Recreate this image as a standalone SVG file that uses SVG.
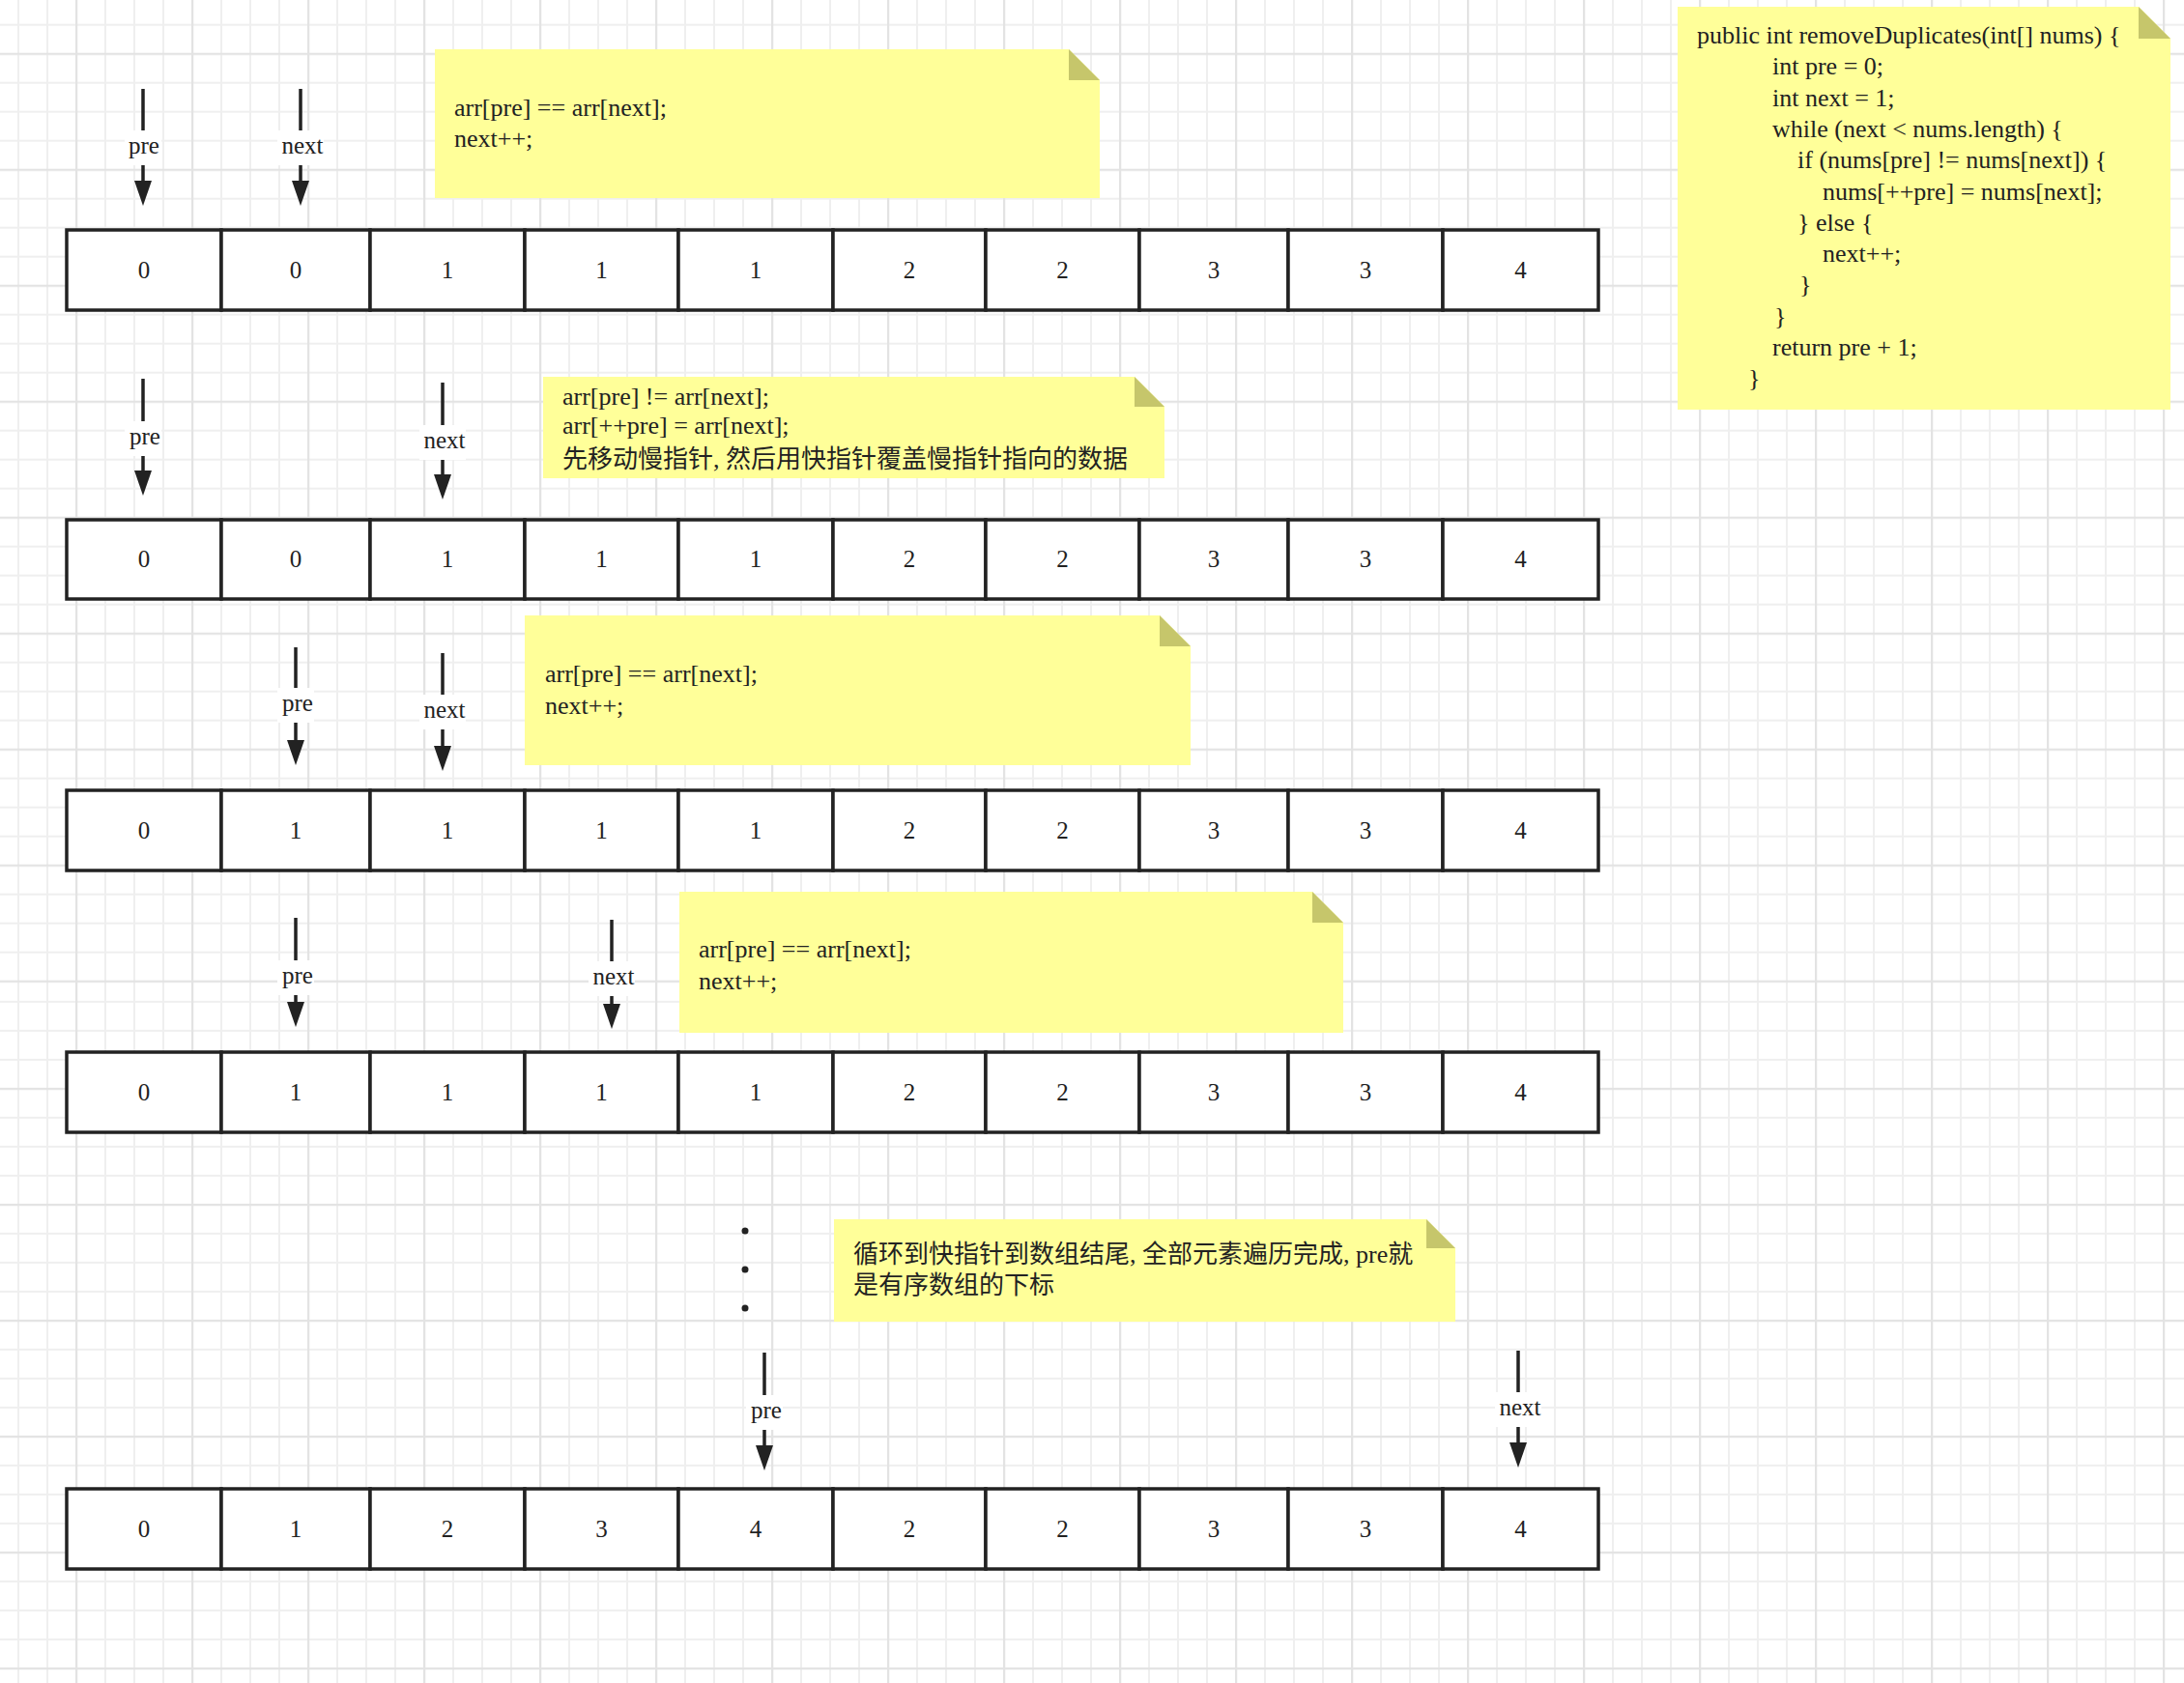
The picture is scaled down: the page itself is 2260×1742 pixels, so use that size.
<svg xmlns="http://www.w3.org/2000/svg" width="2260" height="1742" viewBox="0 0 2260 1742">
<style>
.t{font-family:"Liberation Serif","Noto Sans CJK SC",serif;font-size:25px;fill:#222}
.n{font-size:26px}
.c{text-anchor:middle}
.cjk{font-size:26px}
.cell{fill:#fff;stroke:#222;stroke-width:3.5}
.note{fill:#ffff99}
.fold{fill:#c6c66b}
.arrow{stroke:#222;stroke-width:3.5;fill:none;marker-end:url(#ah)}
.lbl{fill:#fff}
.gmin{stroke:#efefef;stroke-width:2}
.gmaj{stroke:#e3e3e3;stroke-width:2.5}
</style>
<defs>
<pattern id="gridA" patternUnits="userSpaceOnUse" x="78" y="54.7" width="120" height="120">
<path class="gmin" d="M31,0V120M61,0V120M91,0V120M0,31H120M0,61H120M0,91H120"/>
<path class="gmaj" d="M1,0V120M0,1H120"/>
</pattern>
<pattern id="gridB" patternUnits="userSpaceOnUse" x="78" y="45.9" width="120" height="120">
<path class="gmin" d="M31,0V120M61,0V120M91,0V120M0,31H120M0,61H120M0,91H120"/>
<path class="gmaj" d="M1,0V120M0,1H120"/>
</pattern>
<marker id="ah" markerUnits="userSpaceOnUse" markerWidth="28" markerHeight="20" viewBox="0 0 28 20" refX="16" refY="10" orient="auto">
<path d="M0,1 L26,10 L0,19 Z" fill="#222"/>
</marker>
</defs>
<rect x="0" y="0" width="2260" height="1742" fill="#fff"/>
<rect x="0" y="0" width="2260" height="1026" fill="url(#gridA)"/>
<rect x="0" y="1026" width="2260" height="716" fill="url(#gridB)"/>

<g id="note-code">
<path class="note" d="M1736,7 H2213 L2246,40 V424 H1736 Z"/>
<path class="fold" d="M2213,7 L2246,40 H2213 Z"/>
<text class="t n" x="1756" y="45">public int removeDuplicates(int[] nums) {</text>
<text class="t n" x="1834" y="77.3">int pre = 0;</text>
<text class="t n" x="1834" y="109.6">int next = 1;</text>
<text class="t n" x="1834" y="141.9">while (next &lt; nums.length) {</text>
<text class="t n" x="1860" y="174.2">if (nums[pre] != nums[next]) {</text>
<text class="t n" x="1886" y="206.5">nums[++pre] = nums[next];</text>
<text class="t n" x="1860" y="238.8">} else {</text>
<text class="t n" x="1886" y="271.1">next++;</text>
<text class="t n" x="1862" y="303.4">}</text>
<text class="t n" x="1836" y="335.7">}</text>
<text class="t n" x="1834" y="368">return pre + 1;</text>
<text class="t n" x="1809" y="400.3">}</text>
</g>

<g id="note1">
<path class="note" d="M450,51 H1106 L1138,83 V205 H450 Z"/>
<path class="fold" d="M1106,51 L1138,83 H1106 Z"/>
<text class="t n" x="470" y="119.5">arr[pre] == arr[next];</text>
<text class="t n" x="470" y="152">next++;</text>
</g>

<g id="note2">
<path class="note" d="M562,390 H1174 L1205,421 V495 H562 Z"/>
<path class="fold" d="M1174,390 L1205,421 H1174 Z"/>
<text class="t n" x="582" y="418.5">arr[pre] != arr[next];</text>
<text class="t n" x="582" y="449">arr[++pre] = arr[next];</text>
<text class="t cjk" x="582" y="484">先移动慢指针, 然后用快指针覆盖慢指针指向的数据</text>
</g>

<g id="note3">
<path class="note" d="M543,637 H1200 L1232,669 V792 H543 Z"/>
<path class="fold" d="M1200,637 L1232,669 H1200 Z"/>
<text class="t n" x="564" y="705.5">arr[pre] == arr[next];</text>
<text class="t n" x="564" y="738.5">next++;</text>
</g>

<g id="note4">
<path class="note" d="M703,923 H1358 L1390,955 V1069 H703 Z"/>
<path class="fold" d="M1358,923 L1390,955 H1358 Z"/>
<text class="t n" x="723" y="991">arr[pre] == arr[next];</text>
<text class="t n" x="723" y="1024">next++;</text>
</g>

<g id="note5">
<path class="note" d="M863,1262 H1476 L1506,1292 V1368 H863 Z"/>
<path class="fold" d="M1476,1262 L1506,1292 H1476 Z"/>
<text class="t cjk" x="883" y="1307">循环到快指针到数组结尾, 全部元素遍历完成, pre就</text>
<text class="t cjk" x="883" y="1339">是有序数组的下标</text>
</g>

<g id="ellipsis" fill="#222">
<circle cx="771" cy="1274" r="3.5"/>
<circle cx="771" cy="1314" r="3.5"/>
<circle cx="771" cy="1354" r="3.5"/>
</g>

<g id="array1">
<rect class="cell" x="69" y="238" width="160" height="83"/>
<rect class="cell" x="229" y="238" width="154" height="83"/>
<rect class="cell" x="383" y="238" width="160" height="83"/>
<rect class="cell" x="543" y="238" width="159" height="83"/>
<rect class="cell" x="702" y="238" width="160" height="83"/>
<rect class="cell" x="862" y="238" width="158" height="83"/>
<rect class="cell" x="1020" y="238" width="159" height="83"/>
<rect class="cell" x="1179" y="238" width="154" height="83"/>
<rect class="cell" x="1333" y="238" width="160" height="83"/>
<rect class="cell" x="1493" y="238" width="161" height="83"/>
<g class="t c">
<text x="149" y="288">0</text><text x="306" y="288">0</text><text x="463" y="288">1</text><text x="622.5" y="288">1</text><text x="782" y="288">1</text><text x="941" y="288">2</text><text x="1099.5" y="288">2</text><text x="1256" y="288">3</text><text x="1413" y="288">3</text><text x="1573.5" y="288">4</text>
</g>
</g>

<g id="array2">
<rect class="cell" x="69" y="538" width="160" height="82"/>
<rect class="cell" x="229" y="538" width="154" height="82"/>
<rect class="cell" x="383" y="538" width="160" height="82"/>
<rect class="cell" x="543" y="538" width="159" height="82"/>
<rect class="cell" x="702" y="538" width="160" height="82"/>
<rect class="cell" x="862" y="538" width="158" height="82"/>
<rect class="cell" x="1020" y="538" width="159" height="82"/>
<rect class="cell" x="1179" y="538" width="154" height="82"/>
<rect class="cell" x="1333" y="538" width="160" height="82"/>
<rect class="cell" x="1493" y="538" width="161" height="82"/>
<g class="t c">
<text x="149" y="587">0</text><text x="306" y="587">0</text><text x="463" y="587">1</text><text x="622.5" y="587">1</text><text x="782" y="587">1</text><text x="941" y="587">2</text><text x="1099.5" y="587">2</text><text x="1256" y="587">3</text><text x="1413" y="587">3</text><text x="1573.5" y="587">4</text>
</g>
</g>

<g id="array3">
<rect class="cell" x="69" y="818" width="160" height="83"/>
<rect class="cell" x="229" y="818" width="154" height="83"/>
<rect class="cell" x="383" y="818" width="160" height="83"/>
<rect class="cell" x="543" y="818" width="159" height="83"/>
<rect class="cell" x="702" y="818" width="160" height="83"/>
<rect class="cell" x="862" y="818" width="158" height="83"/>
<rect class="cell" x="1020" y="818" width="159" height="83"/>
<rect class="cell" x="1179" y="818" width="154" height="83"/>
<rect class="cell" x="1333" y="818" width="160" height="83"/>
<rect class="cell" x="1493" y="818" width="161" height="83"/>
<g class="t c">
<text x="149" y="868">0</text><text x="306" y="868">1</text><text x="463" y="868">1</text><text x="622.5" y="868">1</text><text x="782" y="868">1</text><text x="941" y="868">2</text><text x="1099.5" y="868">2</text><text x="1256" y="868">3</text><text x="1413" y="868">3</text><text x="1573.5" y="868">4</text>
</g>
</g>

<g id="array4">
<rect class="cell" x="69" y="1089" width="160" height="83"/>
<rect class="cell" x="229" y="1089" width="154" height="83"/>
<rect class="cell" x="383" y="1089" width="160" height="83"/>
<rect class="cell" x="543" y="1089" width="159" height="83"/>
<rect class="cell" x="702" y="1089" width="160" height="83"/>
<rect class="cell" x="862" y="1089" width="158" height="83"/>
<rect class="cell" x="1020" y="1089" width="159" height="83"/>
<rect class="cell" x="1179" y="1089" width="154" height="83"/>
<rect class="cell" x="1333" y="1089" width="160" height="83"/>
<rect class="cell" x="1493" y="1089" width="161" height="83"/>
<g class="t c">
<text x="149" y="1139">0</text><text x="306" y="1139">1</text><text x="463" y="1139">1</text><text x="622.5" y="1139">1</text><text x="782" y="1139">1</text><text x="941" y="1139">2</text><text x="1099.5" y="1139">2</text><text x="1256" y="1139">3</text><text x="1413" y="1139">3</text><text x="1573.5" y="1139">4</text>
</g>
</g>

<g id="array5">
<rect class="cell" x="69" y="1541" width="160" height="83"/>
<rect class="cell" x="229" y="1541" width="154" height="83"/>
<rect class="cell" x="383" y="1541" width="160" height="83"/>
<rect class="cell" x="543" y="1541" width="159" height="83"/>
<rect class="cell" x="702" y="1541" width="160" height="83"/>
<rect class="cell" x="862" y="1541" width="158" height="83"/>
<rect class="cell" x="1020" y="1541" width="159" height="83"/>
<rect class="cell" x="1179" y="1541" width="154" height="83"/>
<rect class="cell" x="1333" y="1541" width="160" height="83"/>
<rect class="cell" x="1493" y="1541" width="161" height="83"/>
<g class="t c">
<text x="149" y="1591">0</text><text x="306" y="1591">1</text><text x="463" y="1591">2</text><text x="622.5" y="1591">3</text><text x="782" y="1591">4</text><text x="941" y="1591">2</text><text x="1099.5" y="1591">2</text><text x="1256" y="1591">3</text><text x="1413" y="1591">3</text><text x="1573.5" y="1591">4</text>
</g>
</g>

<g id="connectors">
<g id="pre1"><path class="arrow" d="M148,92 V203"/><rect class="lbl" x="129" y="135" width="38" height="36"/><text class="t c" x="149" y="159">pre</text></g>
<g id="next1"><path class="arrow" d="M311,92 V203"/><rect class="lbl" x="287" y="135" width="48" height="36"/><text class="t c" x="313" y="159">next</text></g>
<g id="pre2"><path class="arrow" d="M148,392 V503"/><rect class="lbl" x="129" y="436" width="38" height="36"/><text class="t c" x="150" y="460">pre</text></g>
<g id="next2"><path class="arrow" d="M458,396 V507"/><rect class="lbl" x="434" y="440" width="48" height="36"/><text class="t c" x="460" y="464">next</text></g>
<g id="pre3"><path class="arrow" d="M306,670 V782"/><rect class="lbl" x="287" y="712" width="38" height="36"/><text class="t c" x="308" y="736">pre</text></g>
<g id="next3"><path class="arrow" d="M458,676 V788"/><rect class="lbl" x="434" y="719" width="48" height="36"/><text class="t c" x="460" y="743">next</text></g>
<g id="pre4"><path class="arrow" d="M306,950 V1053"/><rect class="lbl" x="287" y="994" width="38" height="36"/><text class="t c" x="308" y="1018">pre</text></g>
<g id="next4"><path class="arrow" d="M633,952 V1055"/><rect class="lbl" x="609" y="995" width="48" height="36"/><text class="t c" x="635" y="1019">next</text></g>
<g id="pre5"><path class="arrow" d="M791,1400 V1512"/><rect class="lbl" x="772" y="1444" width="38" height="36"/><text class="t c" x="793" y="1468">pre</text></g>
<g id="next5"><path class="arrow" d="M1571,1398 V1509"/><rect class="lbl" x="1547" y="1441" width="48" height="36"/><text class="t c" x="1573" y="1465">next</text></g>
</g>
</svg>
